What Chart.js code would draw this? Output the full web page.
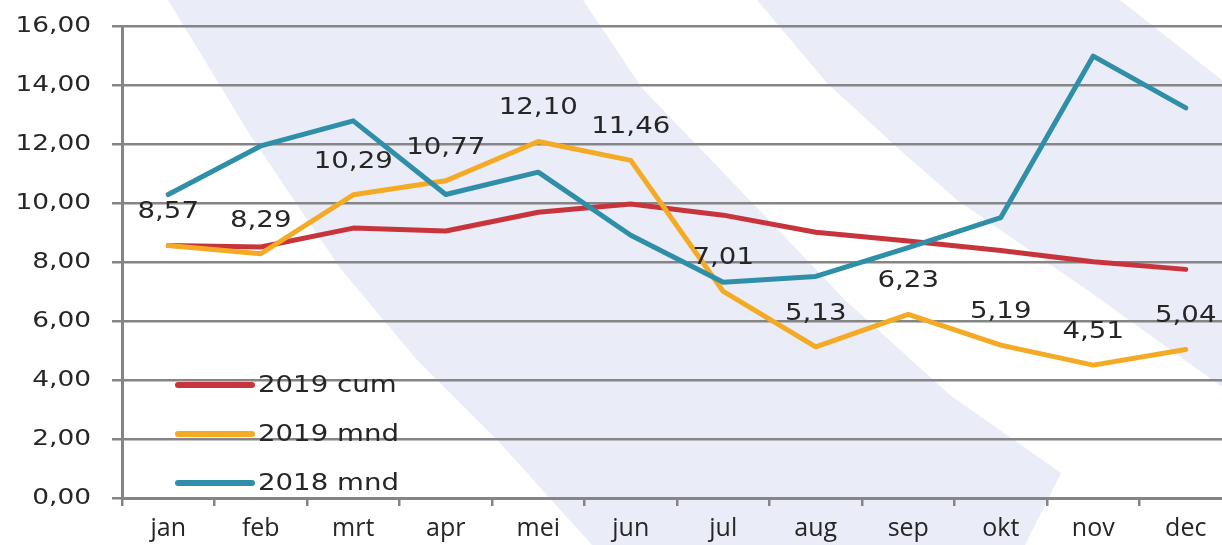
<!DOCTYPE html>
<html>
<head>
<meta charset="utf-8">
<script src="https://cdn.jsdelivr.net/npm/chart.js@4.4.1/dist/chart.umd.min.js"></script>
<style>
  html, body { margin: 0; padding: 0; background: #fff; overflow: hidden; }
  #wrap { width: 1232px; height: 545px; position: relative; }
</style>
</head>
<body>
<div id="wrap"><canvas id="monthChart"></canvas></div>
<script>
const months = ['jan', 'feb', 'mrt', 'apr', 'mei', 'jun', 'jul', 'aug', 'sep', 'okt', 'nov', 'dec']
const cum2019 = [8.57, 8.52, 9.16, 9.06, 9.70, 9.98, 9.60, 9.02, 8.72, 8.40, 8.02, 7.76]
const mnd2019 = [8.57, 8.29, 10.29, 10.77, 12.10, 11.46, 7.01, 5.13, 6.23, 5.19, 4.51, 5.04]
const mnd2018 = [10.30, 11.95, 12.80, 10.30, 11.06, 8.92, 7.32, 7.52, 8.50, 9.52, 15.00, 13.24]
const yTicks = [0, 2, 4, 6, 8, 10, 12, 14, 16]
const seriesNames = ['2019 cum', '2019 mnd', '2018 mnd']

const red = '#c8343b'
const orange = '#f4aa24'
const teal = '#2f8fa8'
const gridGray = '#858585'
const textColor = '#262626'
const bandColor = '#eaedf7'

// decorative swooshes behind the chart
const bands = [
    [[168, 0], [250, 135], [340, 268], [417, 360], [500, 443], [592, 545], [1025, 545], [1061, 473],
     [950, 395], [845, 300], [740, 190], [642, 88], [583, 0]],
    [[757, 0], [827, 83], [900, 150], [957, 200], [1090, 292], [1232, 394], [1232, 88], [1120, 0]]
]

function fmt(v) {
    return Number(v).toFixed(2).replace('.', ',')
}

// the original text is drawn a bit wide
function stretchedText(ctx, text, x, y, align) {
    ctx.save()
    ctx.translate(x, y)
    ctx.scale(1.2, 1)
    ctx.textAlign = align
    ctx.fillText(text, 0, 0)
    ctx.restore()
}

const backgroundBands = {
    id: 'backgroundBands',
    beforeDraw(chart) {
        const ctx = chart.ctx
        ctx.save()
        ctx.fillStyle = bandColor
        bands.forEach(function(pts) {
            ctx.beginPath()
            ctx.moveTo(pts[0][0], pts[0][1])
            for (let i = 1; i < pts.length; i++) ctx.lineTo(pts[i][0], pts[i][1])
            ctx.closePath()
            ctx.fill()
        })
        ctx.restore()
    }
}

const valueLabels = {
    id: 'valueLabels',
    afterDatasetsDraw(chart) {
        const ctx = chart.ctx
        const meta = chart.getDatasetMeta(1)
        ctx.save()
        ctx.font = '23px "DejaVu Sans"'
        ctx.fillStyle = textColor
        ctx.textBaseline = 'middle'
        meta.data.forEach(function(pt, i) {
            stretchedText(ctx, fmt(mnd2019[i]), pt.x, pt.y - 33, 'center')
        })
        ctx.restore()
    }
}

const yLabels = {
    id: 'yLabels',
    afterDraw(chart) {
        const ctx = chart.ctx
        const y = chart.scales.y
        ctx.save()
        ctx.font = '22px "DejaVu Sans"'
        ctx.fillStyle = textColor
        ctx.textBaseline = 'middle'
        yTicks.forEach(function(v) {
            stretchedText(ctx, fmt(v), y.left + 91, y.getPixelForValue(v), 'right')
        })
        ctx.restore()
    }
}

const insideLegend = {
    id: 'insideLegend',
    afterDraw(chart) {
        const ctx = chart.ctx
        const area = chart.chartArea
        const rowY = [area.bottom - 113, area.bottom - 64, area.bottom - 15]
        const x0 = area.left + 56
        ctx.save()
        ctx.font = '23px "DejaVu Sans"'
        ctx.textBaseline = 'middle'
        chart.data.datasets.forEach(function(ds, i) {
            ctx.strokeStyle = ds.borderColor
            ctx.lineWidth = 6
            ctx.lineCap = 'round'
            ctx.beginPath()
            ctx.moveTo(x0, rowY[i])
            ctx.lineTo(x0 + 74, rowY[i])
            ctx.stroke()
            ctx.fillStyle = textColor
            stretchedText(ctx, ds.label, x0 + 80, rowY[i] + 1, 'left')
        })
        ctx.restore()
    }
}

const lineStyle = {
    borderWidth: 5,
    pointRadius: 0,
    tension: 0,
    borderJoinStyle: 'round',
    borderCapStyle: 'round'
}

new Chart(document.getElementById('monthChart'), {
    type: 'line',
    data: {
        labels: months,
        datasets: [
            Object.assign({ label: seriesNames[0], data: cum2019, borderColor: red, order: 2 }, lineStyle),
            Object.assign({ label: seriesNames[1], data: mnd2019, borderColor: orange, order: 1 }, lineStyle),
            Object.assign({ label: seriesNames[2], data: mnd2018, borderColor: teal, order: 0 }, lineStyle)
        ]
    },
    options: {
        responsive: true,
        maintainAspectRatio: false,
        animation: false,
        layout: { padding: { top: 16, right: 0, left: 0, bottom: 0 } },
        plugins: {
            legend: { display: false },
            tooltip: { enabled: false }
        },
        scales: {
            x: {
                offset: true,
                grid: { offset: true, drawOnChartArea: false, color: gridGray, lineWidth: 2.5, tickLength: 8 },
                border: { color: gridGray, width: 3 },
                ticks: {
                    font: { family: 'Open Sans', size: 25 },
                    color: textColor,
                    padding: 8,
                    maxRotation: 0,
                    autoSkip: false
                },
                afterFit: function(s) { s.height = 47 }
            },
            y: {
                min: 0,
                max: 16,
                afterBuildTicks: function(s) { s.ticks = yTicks.map(function(v) { return { value: v } }) },
                ticks: {
                    font: { family: 'DejaVu Sans', size: 21 },
                    color: 'rgba(0,0,0,0)',
                    padding: 14
                },
                grid: { color: gridGray, lineWidth: 2.5, tickLength: 10 },
                border: { color: gridGray, width: 3 },
                afterFit: function(s) { s.width = 122 }
            }
        }
    },
    plugins: [backgroundBands, valueLabels, yLabels, insideLegend]
})
</script>
</body>
</html>
